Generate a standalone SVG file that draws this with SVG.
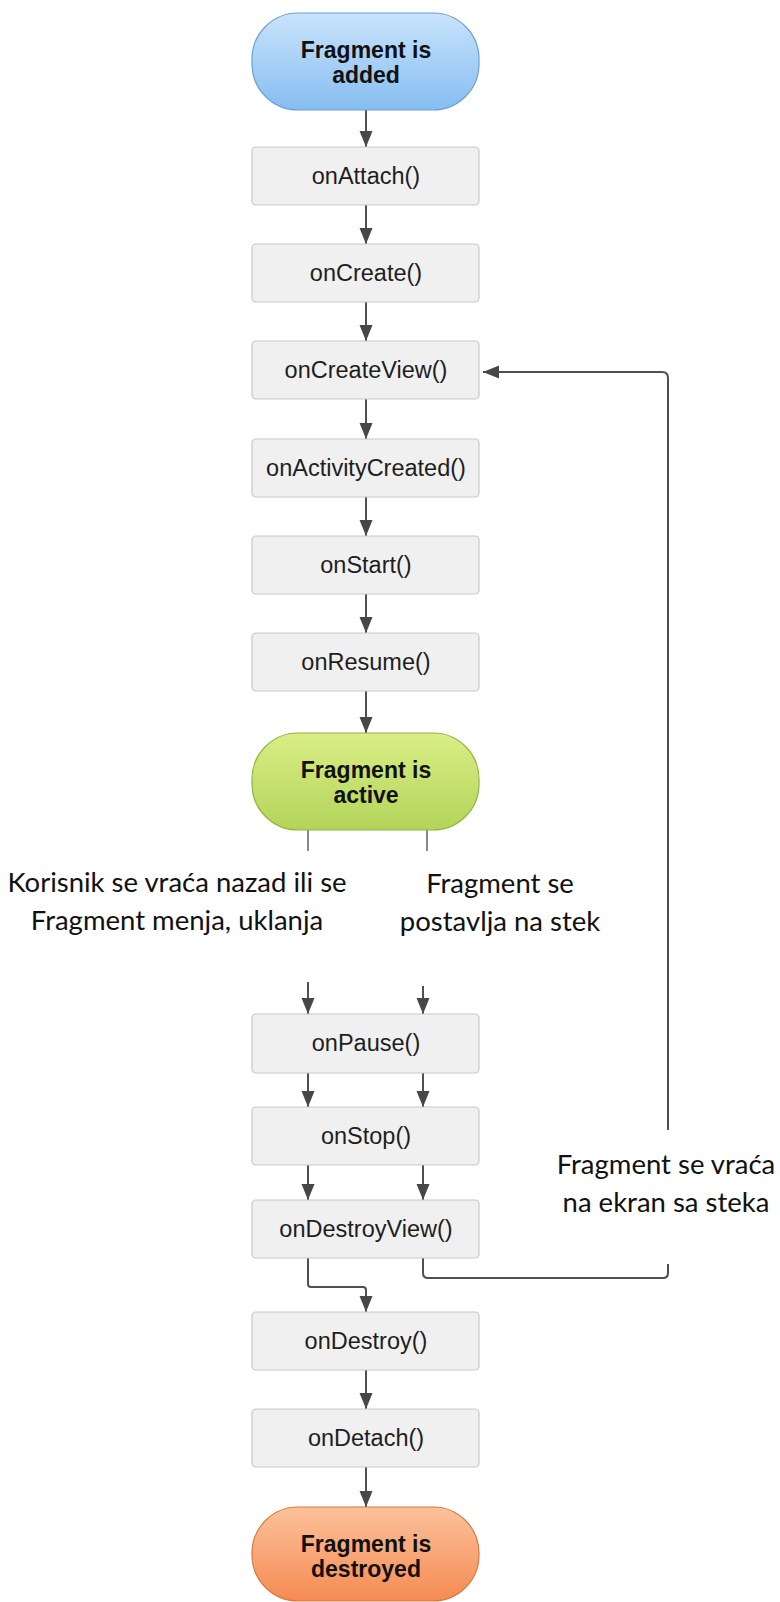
<svg xmlns="http://www.w3.org/2000/svg" width="780" height="1602" viewBox="0 0 780 1602">
  <style>
    .box { fill: #f0f0f0; stroke: #c8c8c8; stroke-width: 1.2; }
    .blbl { font-family: "Liberation Sans", Arial, sans-serif; font-size: 23.5px; fill: #1e1e1e; text-anchor: middle; }
    .plbl { font-family: "Liberation Sans", Arial, sans-serif; font-size: 23px; font-weight: bold; fill: #111; text-anchor: middle; }
    .note { font-family: Lato, "Open Sans", sans-serif; font-size: 27.5px; fill: #111; text-anchor: middle; }
    .arr { fill: none; stroke: #505050; stroke-width: 2; }
    .arrh { fill: none; stroke: #505050; stroke-width: 2; marker-end: url(#head); }
    .stub { fill: none; stroke: #606060; stroke-width: 1.5; }
  </style>
  <defs>
    <marker id="head" viewBox="0 0 16 14" refX="16" refY="7" markerWidth="16" markerHeight="14" markerUnits="userSpaceOnUse" orient="auto">
      <path d="M0,0.5 L16,7 L0,13.5 Z" fill="#474747"/>
    </marker>
    <linearGradient id="gBlue" x1="0" y1="0" x2="0" y2="1">
      <stop offset="0" stop-color="#c9e4fc"/>
      <stop offset="1" stop-color="#86bdf0"/>
    </linearGradient>
    <linearGradient id="gGreen" x1="0" y1="0" x2="0" y2="1">
      <stop offset="0" stop-color="#d9ee85"/>
      <stop offset="1" stop-color="#b3d45a"/>
    </linearGradient>
    <linearGradient id="gOrange" x1="0" y1="0" x2="0" y2="1">
      <stop offset="0" stop-color="#fcc19b"/>
      <stop offset="1" stop-color="#f58b52"/>
    </linearGradient>
  </defs>

  <rect width="780" height="1602" fill="#ffffff"/>

  <!-- connectors -->
  <g id="connectors">
    <path class="arrh" d="M366,110 V147"/>
    <path class="arrh" d="M366,205 V244"/>
    <path class="arrh" d="M366,302 V341"/>
    <path class="arrh" d="M366,399 V439"/>
    <path class="arrh" d="M366,497 V536"/>
    <path class="arrh" d="M366,594 V633"/>
    <path class="arrh" d="M366,691 V733"/>
    <!-- stubs below the active state -->
    <path class="stub" d="M308,830 V851"/>
    <path class="stub" d="M427,830 V851"/>
    <!-- into onPause -->
    <path class="arrh" d="M308,982 V1014"/>
    <path class="arrh" d="M423,986 V1014"/>
    <!-- onPause to onStop -->
    <path class="arrh" d="M308,1073 V1107"/>
    <path class="arrh" d="M423,1073 V1107"/>
    <!-- onStop to onDestroyView -->
    <path class="arrh" d="M308,1165 V1200"/>
    <path class="arrh" d="M423,1165 V1200"/>
    <!-- onDestroyView to onDestroy -->
    <path class="arrh" d="M308,1258 V1284 Q308,1287 311,1287 H363 Q366,1287 366,1290 V1312"/>
    <!-- back stack return -->
    <path class="arr" d="M423,1258 V1273 Q423,1278 428,1278 H663 Q668,1278 668,1273 V1264"/>
    <path class="arrh" d="M668,1130 V378 Q668,372 662,372 H483"/>
    <path class="arrh" d="M366,1370 V1409"/>
    <path class="arrh" d="M366,1467 V1507"/>
  </g>

  <!-- states -->
  <g id="added">
    <rect x="252" y="13" width="227" height="97" rx="46" fill="url(#gBlue)" stroke="#6d9fd6" stroke-width="1.2"/>
    <text class="plbl" x="366" y="58">Fragment is</text>
    <text class="plbl" x="366" y="83">added</text>
  </g>
  <g id="onAttach">
    <rect class="box" x="252" y="147" width="227" height="58" rx="4"/>
    <text class="blbl" x="366" y="184">onAttach()</text>
  </g>
  <g id="onCreate">
    <rect class="box" x="252" y="244" width="227" height="58" rx="4"/>
    <text class="blbl" x="366" y="281">onCreate()</text>
  </g>
  <g id="onCreateView">
    <rect class="box" x="252" y="341" width="227" height="58" rx="4"/>
    <text class="blbl" x="366" y="378">onCreateView()</text>
  </g>
  <g id="onActivityCreated">
    <rect class="box" x="252" y="439" width="227" height="58" rx="4"/>
    <text class="blbl" x="366" y="476">onActivityCreated()</text>
  </g>
  <g id="onStart">
    <rect class="box" x="252" y="536" width="227" height="58" rx="4"/>
    <text class="blbl" x="366" y="573">onStart()</text>
  </g>
  <g id="onResume">
    <rect class="box" x="252" y="633" width="227" height="58" rx="4"/>
    <text class="blbl" x="366" y="670">onResume()</text>
  </g>
  <g id="active">
    <rect x="252" y="733" width="227" height="97" rx="46" fill="url(#gGreen)" stroke="#93b33f" stroke-width="1.2"/>
    <text class="plbl" x="366" y="778">Fragment is</text>
    <text class="plbl" x="366" y="803">active</text>
  </g>

  <g id="label-removed">
    <text class="note" x="177" y="892">Korisnik se vraća nazad ili se</text>
    <text class="note" x="177" y="930">Fragment menja, uklanja</text>
  </g>
  <g id="label-backstack">
    <text class="note" x="500" y="893">Fragment se</text>
    <text class="note" x="500" y="931">postavlja na stek</text>
  </g>
  <g id="label-return">
    <text class="note" x="666" y="1174">Fragment se vraća</text>
    <text class="note" x="666" y="1212">na ekran sa steka</text>
  </g>

  <g id="onPause">
    <rect class="box" x="252" y="1014" width="227" height="59" rx="4"/>
    <text class="blbl" x="366" y="1051">onPause()</text>
  </g>
  <g id="onStop">
    <rect class="box" x="252" y="1107" width="227" height="58" rx="4"/>
    <text class="blbl" x="366" y="1144">onStop()</text>
  </g>
  <g id="onDestroyView">
    <rect class="box" x="252" y="1200" width="227" height="58" rx="4"/>
    <text class="blbl" x="366" y="1237">onDestroyView()</text>
  </g>
  <g id="onDestroy">
    <rect class="box" x="252" y="1312" width="227" height="58" rx="4"/>
    <text class="blbl" x="366" y="1349">onDestroy()</text>
  </g>
  <g id="onDetach">
    <rect class="box" x="252" y="1409" width="227" height="58" rx="4"/>
    <text class="blbl" x="366" y="1446">onDetach()</text>
  </g>
  <g id="destroyed">
    <rect x="252" y="1507" width="227" height="94" rx="46" fill="url(#gOrange)" stroke="#d27a45" stroke-width="1.2"/>
    <text class="plbl" x="366" y="1552">Fragment is</text>
    <text class="plbl" x="366" y="1577">destroyed</text>
  </g>
</svg>
